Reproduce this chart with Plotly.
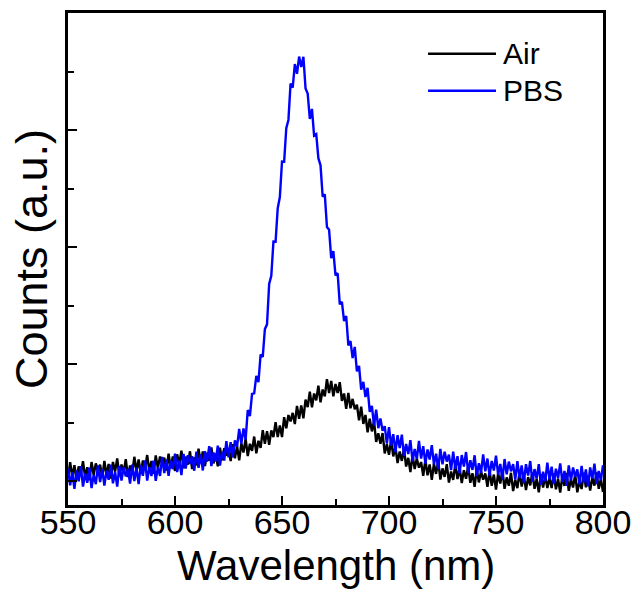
import plotly.graph_objects as go

# Wavelength grid (nm), 1 nm steps from 550 to 800
wavelength = list(range(550, 801))

# Counts (a.u.), PBS (blue) spectrum
pbs = [
    106, -37, 76, -68, 93, -2, 127, -48, 64, -15,
    114, -61, 52, -27, 134, -10, 103, -40, 89, 10,
    139, -19, 78, -48, 130, 3, 117, 39, 105, -22,
    140, -1, 115, -26, 138, 45, 176, 4, 119, 43,
    174, 2, 119, 43, 207, 68, 184, 44, 176, 101,
    233, 76, 176, 51, 231, 106, 221, 145, 212, 88,
    251, 112, 229, 90, 255, 165, 298, 127, 244, 169,
    302, 132, 249, 175, 340, 202, 331, 203, 348, 293,
    446, 319, 449, 354, 607, 555, 744, 749, 898, 845,
    1080, 1061, 1298, 1339, 1684, 1753, 2046, 2045, 2332, 2427,
    2730, 2729, 3016, 3086, 3396, 3362, 3564, 3480, 3628, 3538,
    3626, 3356, 3312, 3094, 3180, 2952, 2964, 2759, 2698, 2430,
    2450, 2171, 2148, 1904, 1964, 1758, 1776, 1510, 1532, 1367,
    1410, 1159, 1196, 1051, 1146, 937, 984, 780, 848, 718,
    796, 591, 642, 474, 610, 452, 534, 429, 468, 320,
    460, 303, 401, 244, 391, 281, 396, 213, 317, 230,
    350, 168, 274, 188, 342, 192, 298, 148, 270, 184,
    306, 142, 234, 102, 274, 142, 250, 166, 226, 94,
    250, 103, 212, 65, 222, 123, 248, 69, 178, 95,
    220, 42, 152, 70, 228, 82, 192, 46, 172, 90,
    216, 53, 146, 15, 188, 57, 166, 83, 144, 13,
    170, 24, 133, -13, 144, 46, 171, -7, 102, 20,
    145, -32, 79, -2, 157, 12, 123, -22, 105, 24,
    151, -9, 86, -42, 133, 5, 116, 36, 99, -29,
    130, -14, 99, -45, 116, 20, 149, -27, 86, 6,
    135,
]

# Counts (a.u.), Air (black) spectrum
air = [
    19, 161, 36, 136, 11, 125, 56, 170, 31, 117,
    6, 162, 51, 151, 82, 140, 29, 171, 46, 146,
    21, 163, 80, 194, 41, 141, 72, 186, 33, 133,
    64, 207, 83, 184, 60, 175, 107, 222, 84, 171,
    61, 218, 108, 209, 141, 200, 90, 233, 109, 210,
    86, 228, 146, 260, 108, 208, 140, 254, 102, 202,
    134, 276, 152, 252, 128, 242, 174, 288, 150, 236,
    126, 285, 178, 281, 216, 277, 170, 315, 194, 297,
    176, 322, 244, 362, 214, 318, 258, 380, 236, 344,
    284, 434, 318, 426, 310, 432, 376, 502, 376, 474,
    376, 546, 450, 564, 510, 582, 486, 642, 532, 646,
    536, 696, 632, 764, 630, 748, 690, 814, 672, 782,
    724, 871, 751, 856, 723, 829, 752, 844, 684, 748,
    616, 752, 622, 702, 614, 652, 518, 636, 488, 564,
    416, 532, 424, 512, 334, 408, 318, 410, 236, 314,
    224, 350, 210, 294, 154, 252, 172, 274, 124, 198,
    76, 222, 102, 192, 114, 162, 45, 180, 49, 142,
    11, 148, 61, 170, 13, 108, 35, 144, -13, 82,
    9, 146, 17, 112, -17, 92, 19, 128, -15, 66,
    -49, 103, -12, 84, 11, 65, -50, 88, -41, 55,
    -74, 65, -21, 90, -66, 31, -41, 70, -86, 11,
    -61, 78, -48, 49, -78, 33, -37, 74, -67, 17,
    -96, 58, -55, 43, -59, 28, -60, 64, -71, 19,
    -99, 41, -42, 70, -84, 15, -55, 57, -96, 2,
    -68, 72, -54, 45, -81, 31, -39, 74, -66, 18,
    -94,
]

series_names = ["Air", "PBS"]
series_colors = ["#000000", "#0000ff"]

x_ticks = [550, 600, 650, 700, 750, 800]
x_range = [550, 800]
y_range = [-205, 4000]

FONT = "Liberation Sans, Arial, sans-serif"

fig = go.Figure()
for name, ys, col in zip(series_names, [air, pbs], series_colors):
    fig.add_trace(go.Scatter(
        x=wavelength, y=ys, mode="lines", name=name,
        line=dict(color=col, width=2.4), showlegend=False,
    ))

# Legend drawn at the top right inside the frame
leg_y = [0.917, 0.842]
for name, col, yy in zip(series_names, series_colors, leg_y):
    fig.add_shape(type="line", xref="paper", yref="paper",
                  x0=0.673, x1=0.800, y0=yy, y1=yy,
                  line=dict(color=col, width=2.5))
    fig.add_annotation(xref="paper", yref="paper", x=0.809, y=yy,
                       text=name, showarrow=False, xanchor="left",
                       yanchor="middle",
                       font=dict(family=FONT, size=30, color="black"))

# x-axis title placed just under the tick labels
fig.add_annotation(xref="paper", yref="paper", x=0.5, y=-0.122,
                   text="Wavelength (nm)", showarrow=False,
                   xanchor="center", yanchor="middle",
                   font=dict(family=FONT, size=42, color="black"))

fig.update_layout(
    width=634, height=589,
    margin=dict(l=68, r=31, t=13, b=84),
    paper_bgcolor="white", plot_bgcolor="white",
    font=dict(family=FONT, color="black"),
)
fig.update_xaxes(
    range=x_range, tickvals=x_ticks, ticktext=[str(v) for v in x_ticks],
    ticks="inside", ticklen=9, tickwidth=2, tickcolor="black",
    minor=dict(dtick=25, tick0=550, ticks="inside", ticklen=6, tickwidth=2,
               tickcolor="black", showgrid=False),
    showline=True, linewidth=2.5, linecolor="black", mirror=True,
    showgrid=False, zeroline=False, automargin=False,
    ticklabelstandoff=-15,
    tickfont=dict(family=FONT, size=34, color="black"),
)
fig.update_yaxes(
    range=y_range, dtick=1000, tick0=0,
    ticks="inside", ticklen=9, tickwidth=2, tickcolor="black",
    minor=dict(dtick=500, tick0=0, ticks="inside", ticklen=6, tickwidth=2,
               tickcolor="black", showgrid=False),
    showticklabels=False, automargin=False,
    showline=True, linewidth=2.5, linecolor="black", mirror=True,
    showgrid=False, zeroline=False,
    title=dict(text="Counts (a.u.)", standoff=4,
               font=dict(family=FONT, size=45, color="black")),
)

fig.write_html("out.html")
